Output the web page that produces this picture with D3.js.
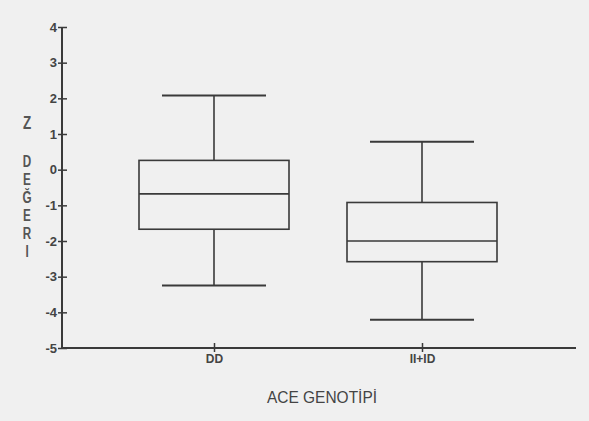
<!DOCTYPE html>
<html>
<head>
<meta charset="utf-8">
<script src="https://cdn.jsdelivr.net/npm/d3@7"></script>
<style>
  body { margin: 0; background: #f0f0f0; }
  svg { display: block; }
</style>
</head>
<body>
<div id="chart"></div>
<script>
// box plot data (z values)
const groups = ["DD", "II+ID"];
const whiskerHigh = [2.08, 0.78];
const q3 = [0.26, -0.92];
const medians = [-0.68, -2.0];
const q1 = [-1.67, -2.58];
const whiskerLow = [-3.25, -4.21];
const yTicks = [4, 3, 2, 1, 0, -1, -2, -3, -4, -5];
const yLetters = ["D", "E", "Ğ", "E", "R", "I"];

const width = 589, height = 421;
const axisX = 62, axisY = 348;
const ink = "#3a3a3a";
const font = "'Liberation Sans', Arial, sans-serif";

const svg = d3.select("#chart").append("svg")
    .attr("width", width)
    .attr("height", height);

svg.append("rect").attr("width", width).attr("height", height).attr("fill", "#f0f0f0");

const y = d3.scaleLinear().domain([-5, 4]).range([axisY, 27]);
const x = d3.scalePoint().domain(groups).range([214, 422]);

const boxW = 150, capW = 104;

// y axis
const yAxis = d3.axisLeft(y).tickValues(yTicks).tickSize(0).tickPadding(5).tickFormat(d => String(d));
const gy = svg.append("g").attr("transform", `translate(${axisX},0)`).call(yAxis);
gy.select(".domain").remove();
gy.selectAll("text").attr("font-family", font).attr("font-size", 13).attr("font-weight", "bold").attr("fill", "#444");
gy.selectAll(".tick").append("line").attr("x1", -4).attr("x2", 5).attr("stroke", ink).attr("stroke-width", 1.5);
svg.append("line").attr("x1", axisX).attr("x2", axisX).attr("y1", y(4)).attr("y2", axisY)
    .attr("stroke", ink).attr("stroke-width", 2);

// x axis
const xAxis = d3.axisBottom(x).tickSize(0).tickPadding(6);
const gx = svg.append("g").attr("transform", `translate(0,${axisY})`).call(xAxis);
gx.select(".domain").remove();
gx.selectAll("text").attr("font-family", font).attr("font-size", 12).attr("font-weight", "bold").attr("fill", "#444");
gx.selectAll(".tick").append("line").attr("y1", -5).attr("y2", 4).attr("stroke", ink).attr("stroke-width", 1.5);
svg.append("line").attr("x1", axisX).attr("x2", 576).attr("y1", axisY).attr("y2", axisY)
    .attr("stroke", ink).attr("stroke-width", 2.2);

// boxes
const data = groups.map((g, i) => ({
    g, hi: whiskerHigh[i], q3: q3[i], med: medians[i], q1: q1[i], lo: whiskerLow[i]
}));

const box = svg.append("g").selectAll("g").data(data).join("g")
    .attr("stroke", ink).attr("stroke-width", 1.6).attr("fill", "none");

box.append("line").attr("x1", d => x(d.g)).attr("x2", d => x(d.g))
    .attr("y1", d => y(d.hi)).attr("y2", d => y(d.q3));
box.append("line").attr("x1", d => x(d.g)).attr("x2", d => x(d.g))
    .attr("y1", d => y(d.q1)).attr("y2", d => y(d.lo));
box.append("line").attr("x1", d => x(d.g) - capW / 2).attr("x2", d => x(d.g) + capW / 2)
    .attr("y1", d => y(d.hi)).attr("y2", d => y(d.hi)).attr("stroke-width", 2);
box.append("line").attr("x1", d => x(d.g) - capW / 2).attr("x2", d => x(d.g) + capW / 2)
    .attr("y1", d => y(d.lo)).attr("y2", d => y(d.lo)).attr("stroke-width", 2);
box.append("rect").attr("x", d => x(d.g) - boxW / 2).attr("width", boxW)
    .attr("y", d => y(d.q3)).attr("height", d => y(d.q1) - y(d.q3));
box.append("line").attr("x1", d => x(d.g) - boxW / 2).attr("x2", d => x(d.g) + boxW / 2)
    .attr("y1", d => y(d.med)).attr("y2", d => y(d.med));

// axis titles
svg.append("text").attr("x", 322).attr("y", 403).attr("text-anchor", "middle")
    .attr("font-family", font).attr("font-size", 17).attr("fill", "#444")
    .attr("textLength", 110).attr("lengthAdjust", "spacingAndGlyphs")
    .text("ACE GENOTİPİ");

svg.append("text").attr("transform", "translate(27,129) scale(0.9,1.2)").attr("text-anchor", "middle")
    .attr("font-family", font).attr("font-size", 15).attr("font-weight", "bold").attr("fill", "#555").text("Z");

svg.append("g").selectAll("text").data(yLetters).join("text")
    .attr("transform", (d, i) => `translate(27,${167 + i * 18}) scale(0.9,1.2)`)
    .attr("text-anchor", "middle")
    .attr("font-family", font).attr("font-size", 13).attr("font-weight", "bold").attr("fill", "#555")
    .text(d => d);
</script>
</body>
</html>
